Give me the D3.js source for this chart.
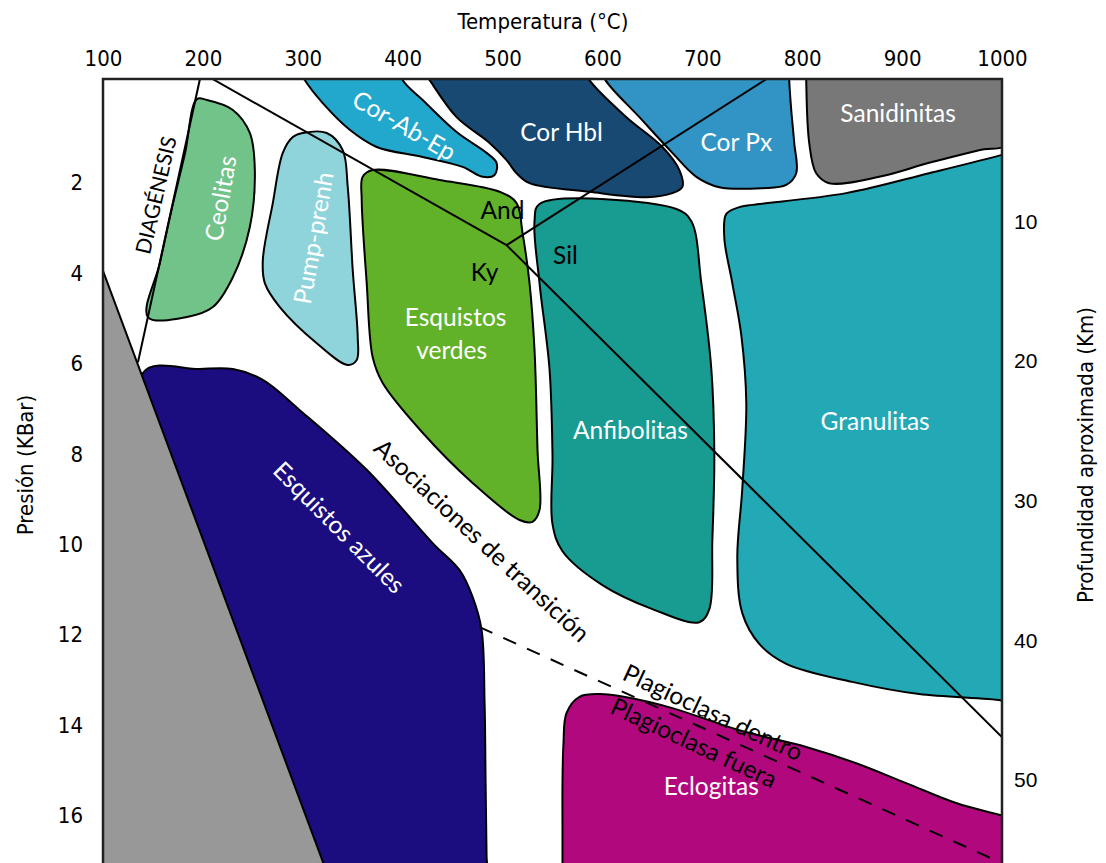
<!DOCTYPE html>
<meta charset="utf-8">
<style>
body { margin: 0; background: #fff; }
.facies { stroke: #000; stroke-width: 2px; stroke-linejoin: round; }
.boundary { fill: none; stroke: #000; stroke-width: 2px; }
.plag { fill: none; stroke: #000; stroke-width: 2px; stroke-dasharray: 14,12; }
.frame { fill: none; stroke: #222; stroke-width: 2.5px; }
.axis path, .axis line { display: none; }
.axis text { font-family: "Liberation Sans Narrow", "Arial Narrow", "DejaVu Sans Condensed", sans-serif; font-size: 22px; fill: #000; }
.axis.depth text { font-family: "Liberation Sans", Arial, sans-serif; font-size: 21px; }
.title { font-family: "Liberation Sans Narrow", "Arial Narrow", "DejaVu Sans Condensed", sans-serif; font-size: 22px; text-anchor: middle; }
.lbl { font-family: Lato, "Open Sans", sans-serif; font-size: 24.5px; text-anchor: middle; dominant-baseline: central; }
.lbl.small { font-size: 21px; }
</style>
<body>
<script src="https://cdn.jsdelivr.net/npm/d3@7"></script>
<script>

var width = 1106,
    height = 863;

// ticks
var tempTicks = [100, 200, 300, 400, 500, 600, 700, 800, 900, 1000];
var pressTicks = [2, 4, 6, 8, 10, 12, 14, 16];
var depthTicks = [10, 20, 30, 40, 50];

// facies fields, [T (°C), P (kbar)]
var ceolitas = [[194, 0.15], [204, 0.17], [230, 0.39], [247, 0.90], [252, 1.72], [247, 2.98], [230, 4.09],
  [210, 4.75], [184, 4.97], [145, 4.97], [157, 3.77], [169, 2.56], [182, 1.36]];
var pumpPrenh = [[300, 0.90], [324, 0.90], [340, 1.28], [345, 2.09], [350, 3.93], [355, 5.41], [354, 5.92],
  [345, 6.03], [314, 5.55], [277, 4.75], [262, 4.22], [260, 3.71], [270, 2.45], [280, 1.34], [290, 0.99]];
var corAbEp = [[295, -0.6], [302, -0.27], [320, 0.24], [347, 0.83], [374, 1.21], [420, 1.43], [460, 1.65],
  [480, 1.87], [492, 1.83], [494, 1.56], [484, 1.34], [454, 0.88], [420, 0.17], [400, -0.27], [397, -0.6]];
var corHbl = [[417, -0.6], [427, -0.27], [454, 0.55], [487, 1.12], [504, 1.50], [514, 1.79], [527, 2.01],
  [587, 2.20], [644, 2.32], [670, 2.23], [680, 2.09], [677, 1.72], [660, 1.21], [624, 0.55], [587, -0.27], [580, -0.6]];
var corPx = [[597, -0.6], [603, -0.27], [637, 0.55], [670, 1.34], [694, 1.87], [717, 2.10], [760, 2.12],
  [784, 2.05], [794, 1.79], [792, 1.12], [789, 0.39], [787, -0.27], [787, -0.6]];
var sanidinitas = [[804, -0.6], [804, -0.27], [807, 1.12], [814, 1.79], [827, 2.01], [877, 1.87], [927, 1.56],
  [977, 1.28], [1008, 1.12], [1008, -0.6]];
var granulitas = [[724, 2.69], [737, 2.54], [750, 2.49], [844, 2.23], [927, 1.79], [999, 1.39], [1009, 1.32],
  [1009, 13.52], [999, 13.45], [917, 13.31], [850, 13.04], [784, 12.64], [757, 12.20], [740, 11.52],
  [735, 10.30], [740, 8.77], [744, 6.87], [739, 5.37], [730, 4.22], [722, 3.22]];
var anfibolitas = [[537, 2.47], [674, 2.58], [689, 2.85], [699, 4.22], [709, 6.12], [712, 8.02], [710, 9.92],
  [707, 11.43], [697, 11.72], [650, 11.43], [600, 10.90], [560, 10.15], [550, 9.55], [550, 8.02],
  [547, 6.12], [537, 4.22], [532, 2.85]];
var esqVerdes = [[370, 1.72], [437, 1.94], [497, 2.20], [514, 2.45], [520, 3.11], [527, 4.22], [532, 5.70],
  [535, 7.91], [537, 9.24], [530, 9.50], [517, 9.46], [470, 8.64], [420, 7.53], [380, 6.43], [370, 5.86],
  [364, 4.22], [359, 2.38], [360, 1.87]];
var esqAzules = [[140, 6.21], [197, 6.12], [230, 6.12], [260, 6.36], [297, 7.03], [364, 8.35], [430, 9.97],
  [457, 10.57], [470, 11.16], [479, 11.89], [482, 13.5], [483, 15.2], [484, 16.9], [485, 18.2], [340, 18.2]];
var eclogitas = [[564, 13.73], [577, 13.37], [597, 13.31], [624, 13.38], [670, 13.62], [737, 14.11],
  [804, 14.48], [854, 14.84], [904, 15.28], [954, 15.72], [999, 15.99], [1012, 16.07], [1012, 18.2],
  [560, 18.2], [560, 17.3], [560, 16.3], [560, 15.3], [561, 14.4]];
var noMeta = [[100, 3.95], [340, 18.2], [100, 18.2]];

// reaction lines
var diagenesis = [[197, -0.29], [135, 5.97]];
var andKy = [[210, -0.29], [504, 3.38]];
var kySil = [[504, 3.38], [1010, 14.48]];
var andSil = [[504, 3.38], [764, -0.29]];
var plagioclasa = [[477, 11.83], [1005, 17.1]];

var fields = [
  {pts: esqAzules, color: "#1b0d80"},
  {pts: noMeta, color: "#989898", straight: true},
  {pts: ceolitas, color: "#72c38a"},
  {pts: pumpPrenh, color: "#8ed4da"},
  {pts: corAbEp, color: "#22a8cc"},
  {pts: corHbl, color: "#174972"},
  {pts: corPx, color: "#3194c5"},
  {pts: sanidinitas, color: "#787878"},
  {pts: granulitas, color: "#23a8b5"},
  {pts: anfibolitas, color: "#189b90"},
  {pts: esqVerdes, color: "#61b229"},
  {pts: eclogitas, color: "#b2087e"}
];

// label text, T, P, angle
var whiteLabels = [
  ["Ceolitas", 217, 2.34, -80],
  ["Pump-prenh", 310, 3.22, -80],
  ["Cor-Ab-Ep", 402, 0.72, 30],
  ["Cor Hbl", 559, 0.86, 0],
  ["Cor Px", 734, 1.08, 0],
  ["Sanidinitas", 896, 0.44, 0],
  ["Esquistos", 453, 4.95, 0],
  ["verdes", 449, 5.68, 0],
  ["Anfibolitas", 628, 7.45, 0],
  ["Granulitas", 873, 7.25, 0],
  ["Esquistos azules", 337, 9.61, 45],
  ["Eclogitas", 709, 15.34, 0]
];
var blackLabels = [
  ["And", 500, 2.60, 0],
  ["Ky", 482, 3.97, 0],
  ["Sil", 563, 3.58, 0],
  ["Asociaciones de transición", 480, 9.90, 43],
  ["Plagioclasa dentro", 711, 13.70, 25],
  ["Plagioclasa fuera", 692, 14.37, 25]
];
var diagLabel = [["DIAGÉNESIS", 152, 2.27, -77]];

var x = d3.scaleLinear().domain([100, 1000]).range([103, 1002]);
var y = d3.scaleLinear().domain([0, 16]).range([92.3, 815.7]);
var depth = d3.scaleLinear().domain([0, 50]).range([82, 780]);

var svg = d3.select("body").append("svg")
    .attr("width", width)
    .attr("height", height);

svg.append("clipPath").attr("id", "plot")
  .append("rect")
    .attr("x", x(100)).attr("y", 79)
    .attr("width", x(1000) - x(100) + 1).attr("height", 800);

var g = svg.append("g").attr("clip-path", "url(#plot)");

var smooth = d3.line()
    .x(function(d) { return x(d[0]); })
    .y(function(d) { return y(d[1]); })
    .curve(d3.curveCatmullRomClosed.alpha(0.5));

var straight = d3.line()
    .x(function(d) { return x(d[0]); })
    .y(function(d) { return y(d[1]); });

g.selectAll(".facies")
    .data(fields)
  .enter().append("path")
    .attr("class", "facies")
    .attr("fill", function(d) { return d.color; })
    .attr("d", function(d) { return d.straight ? straight(d.pts) + "Z" : smooth(d.pts); });

g.selectAll(".boundary")
    .data([diagenesis, andKy, kySil, andSil])
  .enter().append("path")
    .attr("class", "boundary")
    .attr("d", straight);

g.append("path")
    .datum(plagioclasa)
    .attr("class", "plag")
    .attr("d", straight);

function drawLabels(list, color, cls) {
  g.selectAll(null)
      .data(list)
    .enter().append("text")
      .attr("class", cls)
      .attr("fill", color)
      .attr("transform", function(d) { return "translate(" + x(d[1]) + "," + y(d[2]) + ") rotate(" + d[3] + ")"; })
      .text(function(d) { return d[0]; });
}
drawLabels(whiteLabels, "#fff", "lbl");
drawLabels(blackLabels, "#000", "lbl");
drawLabels(diagLabel, "#000", "lbl small");

svg.append("path")
    .attr("class", "frame")
    .attr("d", "M" + x(100) + ",870V79H" + x(1000) + "V870");

// axes
svg.append("g")
    .attr("class", "axis")
    .attr("transform", "translate(0,79)")
    .call(d3.axisTop(x).tickValues(tempTicks).tickFormat(d3.format("d")).tickSize(0).tickPadding(13));

svg.append("g")
    .attr("class", "axis")
    .attr("transform", "translate(" + x(100) + ",0)")
    .call(d3.axisLeft(y).tickValues(pressTicks).tickSize(0).tickPadding(20));

svg.append("g")
    .attr("class", "axis depth")
    .attr("transform", "translate(" + x(1000) + ",0)")
    .call(d3.axisRight(depth).tickValues(depthTicks).tickSize(0).tickPadding(12));

svg.append("text")
    .attr("class", "title")
    .attr("x", 543).attr("y", 29)
    .text("Temperatura (°C)");

svg.append("text")
    .attr("class", "title")
    .attr("transform", "translate(33,465) rotate(-90)")
    .text("Presión (KBar)");

svg.append("text")
    .attr("class", "title")
    .attr("transform", "translate(1093,455) rotate(-90)")
    .text("Profundidad aproximada (Km)");

</script>
